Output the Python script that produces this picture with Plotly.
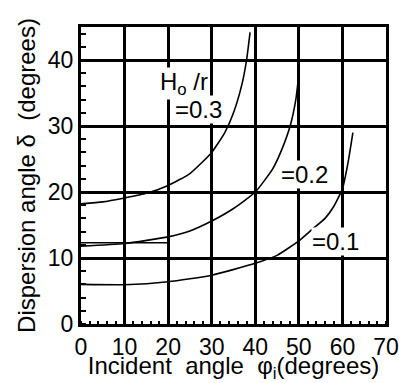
import plotly.graph_objects as go

# ---- data ----
x_03 = [0, 5, 10, 15, 20, 25, 30, 33, 35, 37, 38, 38.8]
y_03 = [18.2, 18.5, 19.1, 19.8, 21.0, 22.8, 26.0, 29.0, 32.0, 36.5, 40.0, 44.2]

x_02 = [0, 10, 20, 25, 30, 35, 40, 44, 46, 48, 49.3, 50]
y_02 = [11.8, 12.2, 13.2, 14.1, 15.6, 17.5, 20.0, 23.5, 26.3, 30.0, 34.0, 37.8]

x_01 = [0, 10, 20, 30, 40, 45, 50, 53, 56, 58, 60, 61.3, 62.4]
y_01 = [6.0, 5.95, 6.4, 7.4, 9.2, 10.4, 12.6, 14.3, 16.0, 17.8, 20.5, 24.5, 29.0]

seg_x = [0, 20]
seg_y = [12.3, 12.3]

x_ticks = [0, 10, 20, 30, 40, 50, 60, 70]
y_ticks = [0, 10, 20, 30, 40]

FONT = "Liberation Sans, Arial, sans-serif"

fig = go.Figure()
for xs, ys in [(x_03, y_03), (x_02, y_02), (x_01, y_01)]:
    fig.add_trace(go.Scatter(x=xs, y=ys, mode="lines",
                             line=dict(color="black", width=1.6, shape="spline", smoothing=0.5),
                             showlegend=False, hoverinfo="skip"))
fig.add_trace(go.Scatter(x=seg_x, y=seg_y, mode="lines",
                         line=dict(color="black", width=1.6),
                         showlegend=False, hoverinfo="skip"))

ann_font = dict(family=FONT, size=24, color="black")
fig.add_annotation(x=18.0, y=36.4, text="H<sub>o</sub> /r", showarrow=False,
                   xanchor="left", yanchor="middle", font=ann_font, bgcolor="white", borderpad=0)
fig.add_annotation(x=21.4, y=32.5, text="=0.3", showarrow=False,
                   xanchor="left", yanchor="middle", font=ann_font, bgcolor="white", borderpad=0)
fig.add_annotation(x=45.6, y=22.6, text="=0.2", showarrow=False,
                   xanchor="left", yanchor="middle", font=ann_font, bgcolor="white", borderpad=0)
fig.add_annotation(x=52.9, y=12.5, text="=0.1", showarrow=False,
                   xanchor="left", yanchor="middle", font=ann_font, bgcolor="white", borderpad=0)

fig.update_layout(
    width=399, height=383,
    margin=dict(l=81, r=13, t=27, b=59),
    paper_bgcolor="white", plot_bgcolor="white",
    font=dict(family=FONT, size=22, color="black"),
)
fig.update_xaxes(
    range=[0, 70], tickmode="array", tickvals=x_ticks, ticktext=[str(v) for v in x_ticks],
    showgrid=True, gridcolor="black", gridwidth=2.6, zeroline=False,
    showline=True, linecolor="black", linewidth=3, mirror=True, automargin=False,
    ticks="", tickfont=dict(size=23, family=FONT),
    minor=dict(dtick=2, ticks="inside", ticklen=3, tickcolor="black", tickwidth=1.5, showgrid=False),
    title=dict(text="Incident  angle  φ<sub>i</sub>(degrees)", font=dict(size=24, family=FONT), standoff=8),
)
fig.update_yaxes(
    range=[0, 45], tickmode="array", tickvals=y_ticks, ticktext=[str(v) for v in y_ticks],
    showgrid=True, gridcolor="black", gridwidth=2.6, zeroline=False,
    showline=True, linecolor="black", linewidth=3, mirror=True, automargin=False,
    ticks="", tickfont=dict(size=23, family=FONT),
    minor=dict(dtick=2, ticks="inside", ticklen=5, tickcolor="black", tickwidth=1.5, showgrid=False),
    title=dict(text="Dispersion angle δ  (degrees)", font=dict(size=24, family=FONT), standoff=6),
)

fig.write_html("out.html", config={"displayModeBar": False},
               post_script="document.body.style.margin='0';document.body.style.overflow='hidden';")
